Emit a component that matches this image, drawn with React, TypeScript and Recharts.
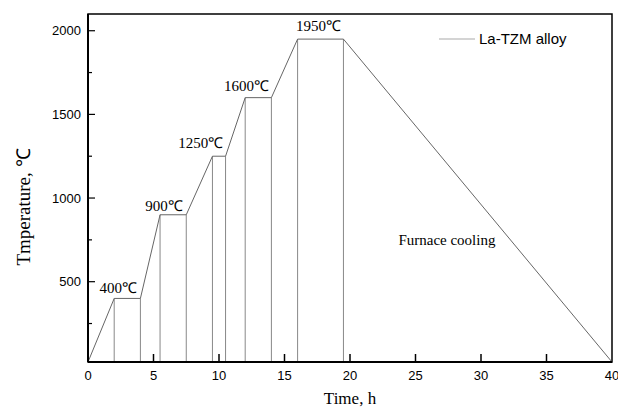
import { LineChart, Line, XAxis, YAxis, ReferenceLine, ReferenceDot, ReferenceArea } from "recharts";

// heating schedule of La-TZM alloy
const times = [0, 2, 4, 5.5, 7.5, 9.5, 10.5, 12, 14, 16, 19.5, 40];
const temps = [20, 400, 400, 900, 900, 1250, 1250, 1600, 1600, 1950, 1950, 20];

// plateau edges dropped to the axis
const dropTimes = [2, 4, 5.5, 7.5, 9.5, 10.5, 12, 14, 16, 19.5];
const dropTemps = [400, 400, 900, 900, 1250, 1250, 1600, 1600, 1950, 1950];

const labelTexts = ["400℃", "900℃", "1250℃", "1600℃", "1950℃"];
const labelTimes = [2.3, 5.8, 8.6, 12.1, 17.6];
const labelTemps = [420, 910, 1290, 1630, 1985];

const xTicks = [0, 5, 10, 15, 20, 25, 30, 35, 40];
const yTicks = [250, 500, 750, 1000, 1250, 1500, 1750, 2000];

const data = times.map((t, i) => ({ time: t, temp: temps[i] }));

const SANS = "'Liberation Sans', Arial, sans-serif";
const SERIF = "'Liberation Serif', 'Times New Roman', serif";

function XTick({ x, y, payload }: any) {
  const ax = y - 8; // tickMargin
  return (
    <g>
      {payload.value !== 0 && payload.value !== 40 && (
        <line x1={x} x2={x} y1={ax} y2={ax - 8} stroke="#000" strokeWidth={1.5} />
      )}
      <text x={x} y={ax + 13} textAnchor="middle" dominantBaseline="central" fontFamily={SANS} fontSize={13} fill="#000">
        {payload.value}
      </text>
    </g>
  );
}

function YTick({ x, y, payload }: any) {
  const ax = x + 8;
  const major = payload.value % 500 === 0;
  return (
    <g>
      <line x1={ax} x2={ax + (major ? 7 : 4)} y1={y} y2={y} stroke="#000" strokeWidth={1.2} />
      {major && (
        <text x={ax - 7} y={y} textAnchor="end" dominantBaseline="central" fontFamily={SANS} fontSize={13} fill="#000">
          {payload.value}
        </text>
      )}
    </g>
  );
}

export default function App() {
  return (
    <div style={{ position: "absolute", left: 0, top: 0, width: 618, height: 407, background: "#fff" }}>
      <LineChart width={618} height={407} data={data} margin={{ top: 14, right: 6, left: 0, bottom: 0 }}>
        <XAxis
          dataKey="time"
          type="number"
          domain={[0, 40]}
          ticks={xTicks}
          interval={0}
          tickSize={0}
          tickMargin={8}
          tick={<XTick />}
          height={45}
          axisLine={{ stroke: "#000", strokeWidth: 2 }}
          label={() => (
            <text x={350} y={398} textAnchor="middle" dominantBaseline="central" fontFamily={SERIF} fontSize={17} fill="#000">
              Time, h
            </text>
          )}
        />
        <YAxis
          type="number"
          domain={[20, 2100]}
          ticks={yTicks}
          interval={0}
          allowDataOverflow
          tickSize={0}
          tickMargin={8}
          tick={<YTick />}
          width={88}
          axisLine={{ stroke: "#000", strokeWidth: 2 }}
          label={() => (
            <text x={23} y={207} transform="rotate(-90 23 207)" textAnchor="middle" dominantBaseline="central" fontFamily={SERIF} fontSize={19} fill="#000">
              Tmperature, ℃
            </text>
          )}
        />
        <ReferenceArea x1={0} x2={40} y1={20} y2={2100} fill="none" stroke="#000" strokeWidth={1.5} ifOverflow="extendDomain" />
        {dropTimes.map((t, i) => (
          <ReferenceLine
            key={i}
            segment={[
              { x: t, y: 20 },
              { x: t, y: dropTemps[i] },
            ]}
            stroke="#888"
            strokeWidth={1}
          />
        ))}
        {labelTexts.map((s, i) => (
          <ReferenceDot
            key={s}
            x={labelTimes[i]}
            y={labelTemps[i]}
            r={0}
            fill="none"
            stroke="none"
            label={{ value: s, position: "top", fontFamily: SERIF, fontSize: 15, fill: "#000", offset: 2 }}
          />
        ))}
        <ReferenceDot
          x={27.4}
          y={750}
          r={0}
          fill="none"
          stroke="none"
          label={{ value: "Furnace cooling", position: "center", fontFamily: SERIF, fontSize: 15, fill: "#000" }}
        />
        <Line type="linear" dataKey="temp" stroke="#666" strokeWidth={1} dot={false} isAnimationActive={false} />
      </LineChart>
      <div
        style={{
          position: "absolute",
          left: 439,
          top: 30,
          display: "flex",
          alignItems: "center",
          fontFamily: SANS,
          fontSize: 15,
          color: "#000",
          lineHeight: "18px",
        }}
      >
        <svg width={40} height={10}>
          <line x1={0} x2={36} y1={5} y2={5} stroke="#aaa" strokeWidth={1.2} />
        </svg>
        <span>La-TZM alloy</span>
      </div>
    </div>
  );
}
